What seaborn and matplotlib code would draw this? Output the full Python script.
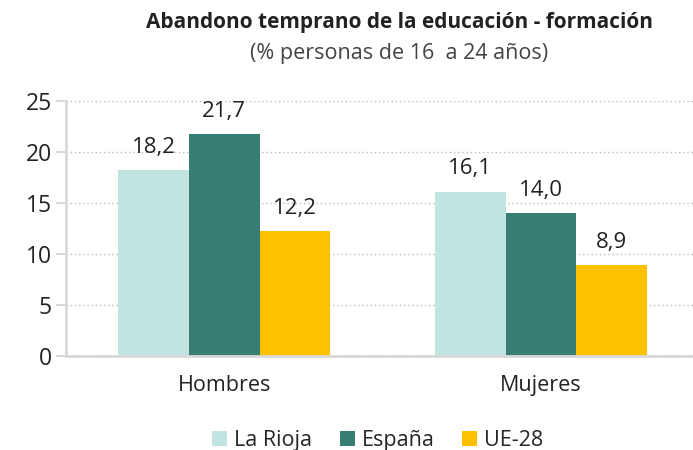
import pandas as pd
import seaborn as sns
import matplotlib.pyplot as plt
from matplotlib.ticker import FixedLocator

sns.set_style("white")
plt.rcParams['font.family'] = ['Open Sans', 'DejaVu Sans']

grupos = ['Hombres', 'Mujeres']
zonas = ['La Rioja', 'España', 'UE-28']
la_rioja = [18.2, 16.1]
espana = [21.7, 14.0]
ue28 = [12.2, 8.9]
colores = ['#C2E4E1', '#387D74', '#FFC000']

data = pd.DataFrame({
    'grupo': grupos * 3,
    'zona': [z for z in zonas for _ in grupos],
    'valor': la_rioja + espana + ue28,
})

fig = plt.figure(figsize=(6.93, 4.5), dpi=100)
ax = fig.add_axes([0.095, 0.209, 0.914, 0.567])
sns.barplot(data=data, x='grupo', y='valor', hue='zona', hue_order=zonas,
            palette=colores, width=0.67, saturation=1, linewidth=0,
            ax=ax, legend=True)

for cont in ax.containers:
    ax.bar_label(cont, labels=[f'{v:.1f}'.replace('.', ',') for v in cont.datavalues],
                 padding=9, fontsize=16, color='#222222')

ax.set_xlim(-0.5, 1.5)
ax.set_ylim(0, 25)
ax.set_yticks([0, 5, 10, 15, 20, 25])
ax.yaxis.grid(True, linestyle=(0, (1, 2)), color='#BBBBBB', linewidth=1)
ax.set_axisbelow(True)
ax.set_xlabel('')
ax.set_ylabel('')
for s in ['top', 'right']:
    ax.spines[s].set_visible(False)
for s in ['left', 'bottom']:
    ax.spines[s].set_color('#D9D9D9')
    ax.spines[s].set_linewidth(2)
ax.tick_params(axis='y', labelsize=16.5, colors='#D9D9D9', labelcolor='#222222',
               length=7, width=1.5, left=True, pad=3)
ax.tick_params(axis='x', labelsize=15.5, labelcolor='#222222', length=0, pad=14)
ax.xaxis.set_minor_locator(FixedLocator([0.5]))
ax.tick_params(axis='x', which='minor', length=7, width=1.5, colors='#D9D9D9')

handles, labels = ax.get_legend_handles_labels()
ax.get_legend().remove()
fig.legend(handles, labels, loc='center', bbox_to_anchor=(0.545, 0.022), ncol=3,
           frameon=False, fontsize=15.5, handlelength=0.7, handleheight=0.7,
           handletextpad=0.3, columnspacing=1.3, borderpad=0)

fig.text(0.576, 0.951, 'Abandono temprano de la educación - formación',
         ha='center', va='center', fontsize=15, fontweight='bold', color='#222222')
fig.text(0.576, 0.88, '(% personas de 16  a 24 años)',
         ha='center', va='center', fontsize=15.5, color='#444444')

fig.savefig('out.png', dpi=100)
